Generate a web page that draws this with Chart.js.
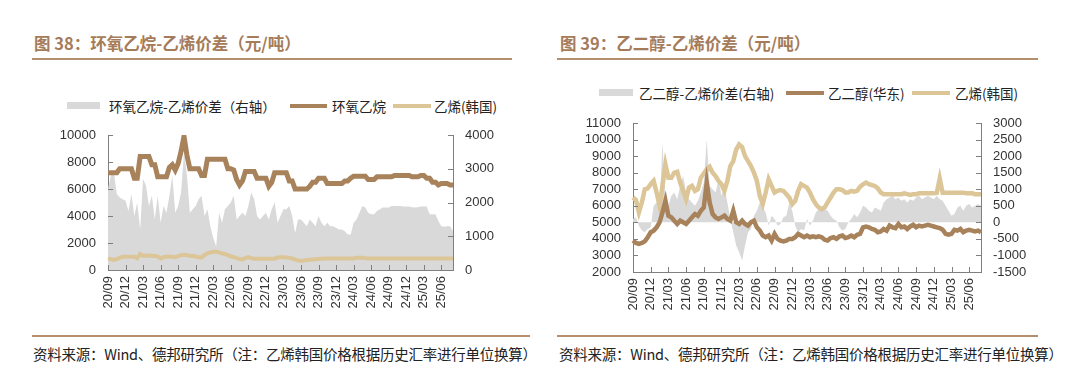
<!DOCTYPE html>
<html>
<head>
<meta charset="utf-8">
<script src="https://cdn.jsdelivr.net/npm/chart.js@4.4.1/dist/chart.umd.min.js"></script>
<style>
  body { margin: 0; width: 1080px; height: 389px; background: #fff; position: relative; overflow: hidden; font-family: "Noto Sans CJK SC", sans-serif; }
  .title { position: absolute; top: 32px; font-size: 16.5px; line-height: 22px; font-weight: bold; color: #a57b59; white-space: nowrap; }
  .rule { position: absolute; height: 2px; background: #b58f6d; }
  .src { position: absolute; top: 344px; font-size: 14.5px; letter-spacing: -0.25px; line-height: 20px; color: #222; white-space: nowrap; }
  .lg { position: absolute; font-size: 13.5px; line-height: 16px; color: #222; white-space: nowrap; }
  .sw { position: absolute; }
  .box { position: absolute; }
</style>
</head>
<body>

<div class="title" style="left:34px">图 38：环氧乙烷-乙烯价差（元/吨）</div>
<div class="rule" style="left:32px;width:480px;top:58px"></div>
<div class="title" style="left:560px">图 39：乙二醇-乙烯价差（元/吨）</div>
<div class="rule" style="left:557px;width:481px;top:58px"></div>

<div class="sw" style="left:67px;top:102px;width:33px;height:7px;background:#d9d9d9"></div>
<div class="lg" style="left:109px;top:98px">环氧乙烷-乙烯价差（右轴）</div>
<div class="sw" style="left:290px;top:104px;width:37px;height:4px;background:#a8825a"></div>
<div class="lg" style="left:332px;top:98px">环氧乙烷</div>
<div class="sw" style="left:393px;top:104px;width:38px;height:4px;background:#dcc597"></div>
<div class="lg" style="left:434px;top:98px">乙烯(韩国)</div>

<div class="sw" style="left:599px;top:89px;width:34px;height:7px;background:#d9d9d9"></div>
<div class="lg" style="left:639px;top:85px">乙二醇-乙烯价差(右轴)</div>
<div class="sw" style="left:786px;top:91px;width:38px;height:4px;background:#a8825a"></div>
<div class="lg" style="left:828px;top:85px">乙二醇(华东)</div>
<div class="sw" style="left:912px;top:91px;width:38px;height:4px;background:#dcc597"></div>
<div class="lg" style="left:955px;top:85px">乙烯(韩国)</div>

<div class="box" style="left:30px;top:115px;width:500px;height:215px"><canvas id="chartEO" width="500" height="215"></canvas></div>
<div class="box" style="left:555px;top:100px;width:505px;height:230px"><canvas id="chartMEG" width="505" height="230"></canvas></div>

<div class="rule" style="left:32px;width:498px;top:335px"></div>
<div class="rule" style="left:557px;width:481px;top:335px"></div>
<div class="src" style="left:33px">资料来源：Wind、德邦研究所（注：乙烯韩国价格根据历史汇率进行单位换算）</div>
<div class="src" style="left:559px">资料来源：Wind、德邦研究所（注：乙烯韩国价格根据历史汇率进行单位换算）</div>

<script>
// 半月一个点，2020/09 起
const xTickLabels = ["20/09","20/12","21/03","21/06","21/09","21/12","22/03","22/06","22/09","22/12",
  "23/03","23/06","23/09","23/12","24/03","24/06","24/09","24/12","25/03","25/06"];

// 图38 环氧乙烷（左轴）
const eoPrice = [7200,7200,7200,7200,7500,7500,7500,7500,7500,6800,6800,8400,8400,8400,8400,7800,7800,6900,6900,6900,
  6900,7600,7800,7400,7900,8800,9900,8500,7500,7500,7500,7500,7000,7000,8200,8200,8200,8200,8200,8200,
  8200,7500,7500,7400,6700,6300,6600,7300,7300,7300,7300,6800,6800,6800,6800,6200,6500,7200,7200,7200,
  7200,7200,6600,6600,6000,6000,6000,6000,6000,6200,6500,6500,6800,6800,6800,6400,6400,6400,6400,6400,
  6400,6600,6600,6800,6950,6950,6950,6950,6950,6700,6700,6700,6900,6900,6900,6900,6900,6900,7000,7000,
  7000,7000,7000,7000,6900,6900,6900,7000,7000,6800,6800,6500,6500,6300,6400,6400,6400,6300,6300];
// 图38 乙烯(韩国)（左轴）
const ethKoreaL = [860,800,740,800,900,990,990,990,990,990,860,1190,1050,1050,1070,1060,1030,1000,860,950,
  1000,990,980,950,1030,1100,1120,1100,1050,1030,1000,950,930,1100,1230,1300,1360,1350,1300,1230,
  1170,1100,1000,950,880,820,790,880,950,880,840,840,840,840,840,840,840,840,920,940,
  950,930,900,850,780,700,680,700,740,760,780,800,820,840,850,850,850,850,850,850,
  850,850,850,850,850,900,910,900,880,850,850,850,850,850,850,850,850,850,850,850,
  850,850,850,850,850,850,850,850,850,850,850,850,850,850,850,850,850,850,850];
// 图38 价差（右轴）
const eoSpread = [2400,2800,2900,2250,2150,2100,2050,1750,2250,1600,2000,1200,2700,2500,1900,2200,1500,2200,1400,1900,
  1700,2200,2800,1700,1900,2300,3500,2800,1700,1800,1900,2100,2200,1600,1800,1300,950,700,1700,1400,
  1800,1900,2000,2200,1500,1600,1700,1600,1900,2300,2100,1600,1500,1600,1700,1500,1800,2000,1400,1600,
  1800,1800,1900,1600,1100,1500,1500,1400,1300,1500,1400,1300,1600,1400,1300,1400,1300,1300,1250,1200,
  1200,1150,1050,1050,1400,1500,1700,1900,1850,1700,1650,1650,1750,1800,1850,1850,1850,1900,1900,1900,
  1900,1880,1880,1880,1860,1850,1860,1880,1880,1880,1650,1650,1650,1450,1300,1280,1300,1300,1150];

// 图39 乙二醇(华东)（左轴）
const megPrice = [3900,3750,3700,3750,3850,4100,4400,4500,4700,5000,5600,6300,5400,5300,5100,4900,5100,5000,4900,5100,
  5300,5500,5400,5700,5900,7400,6200,5500,5300,5200,5300,5400,5200,5100,5700,5000,4900,5100,4900,4800,
  5000,5100,4700,4500,4200,4100,4200,3900,4300,4000,3900,3850,3900,4000,4000,4100,4300,4200,4100,4200,
  4100,4150,4100,4150,4100,3950,3900,4050,4100,4000,4150,4200,4050,4100,4200,4100,4250,4300,4700,4750,
  4700,4600,4550,4400,4450,4600,4500,4800,4700,4650,4900,4700,4750,4600,4750,4850,4700,4800,4750,4800,
  4850,4800,4750,4700,4650,4550,4300,4250,4300,4550,4500,4600,4400,4500,4550,4500,4450,4500,4400];
// 图39 乙烯(韩国)（左轴）
const ethKoreaR = [6500,6350,5600,6200,7000,7050,7300,7500,6800,6000,7200,8500,7700,7700,8000,8050,7400,6900,6400,7100,
  7200,6900,7000,7700,7950,8200,8350,8000,7800,7500,7300,6900,7500,8400,8700,9400,9700,9550,9000,8700,
  8400,8000,7500,6600,6100,6800,7600,7200,6800,6900,6950,6900,6700,6500,6100,6300,6900,7300,7200,7100,
  6800,6400,6100,5900,5800,5900,6200,6500,6800,7000,7000,6950,6800,6800,6900,6850,6900,7150,7300,7400,
  7300,7250,7200,7050,6800,6700,6700,6700,6700,6700,6700,6700,6750,6700,6650,6700,6700,6750,6750,6750,
  6750,6750,6750,6780,7650,6780,6780,6780,6780,6780,6780,6780,6780,6760,6750,6750,6700,6700,6700];
// 图39 价差（右轴）
const megSpread = [100,150,-100,-250,-300,-200,-150,500,600,450,2400,700,500,800,900,700,1100,1400,900,700,
  600,500,650,900,1200,2500,1100,1000,900,1300,800,1100,600,100,-300,-700,-900,-1150,-700,-300,
  -200,200,350,600,450,300,-100,200,100,-100,-50,150,200,600,350,-100,-300,-200,-250,100,
  -100,50,300,400,500,400,350,200,100,50,-150,-250,-200,0,100,250,150,300,500,450,
  350,300,450,400,350,600,700,750,800,700,750,650,700,600,700,650,750,800,700,750,
  800,750,700,800,700,650,500,350,200,250,450,500,350,500,550,450,500,550,500];

const brown = "#a8825a";
const tan = "#dcc597";
const gray = "#d9d9d9";
const axisColor = "#7f7f7f";
const tickFont = { family: "Liberation Sans", size: 13 };

function halfMonthLabels(n) {
  const out = [];
  for (let i = 0; i < n; i++) {
    const m = 8 + Math.floor(i / 2);
    const y = 20 + Math.floor(m / 12);
    out.push(y + "/" + String(m % 12 + 1).padStart(2, "0"));
  }
  return out;
}

// 刻度线朝内
const innerTicks = {
  id: "innerTicks",
  afterDatasetsDraw(chart) {
    const ctx = chart.ctx;
    ctx.save();
    ctx.strokeStyle = axisColor;
    ctx.lineWidth = 1;
    Object.values(chart.scales).forEach((s) => {
      s.ticks.forEach((t, i) => {
        const p = Math.round(s.getPixelForTick(i)) + 0.5;
        ctx.beginPath();
        if (s.axis === "x") {
          ctx.moveTo(p, s.top);
          ctx.lineTo(p, s.top - 5);
        } else if (s.position === "left") {
          ctx.moveTo(s.right, p);
          ctx.lineTo(s.right + 5, p);
        } else {
          ctx.moveTo(s.left, p);
          ctx.lineTo(s.left - 5, p);
        }
        ctx.stroke();
      });
    });
    ctx.restore();
  },
};

function makeChart(id, cfg) {
  const labels = halfMonthLabels(cfg.line1.length);
  return new Chart(document.getElementById(id), {
    type: "line",
    data: {
      labels: labels,
      datasets: [
        {
          data: cfg.spread, yAxisID: "y1", order: 3,
          borderWidth: 0, pointRadius: 0, fill: "origin", backgroundColor: gray, tension: 0,
        },
        {
          data: cfg.line2, yAxisID: "y", order: 2,
          borderColor: tan, borderWidth: cfg.w2, pointRadius: 0, fill: false, tension: 0,
        },
        {
          data: cfg.line1, yAxisID: "y", order: 1,
          borderColor: brown, borderWidth: cfg.w1, pointRadius: 0, fill: false, tension: 0,
        },
      ],
    },
    options: {
      responsive: false,
      animation: false,
      events: [],
      layout: { padding: { top: cfg.top, left: 0, right: 0, bottom: 0 } },
      plugins: { legend: { display: false }, tooltip: { enabled: false } },
      scales: {
        x: {
          grid: { display: true, drawOnChartArea: false, drawTicks: false },
          border: { display: true, color: axisColor },
          afterBuildTicks: (scale) => {
            scale.ticks = scale.ticks.filter((t) => t.value % 2 === 0 && xTickLabels.includes(labels[t.value]));
          },
          afterFit: (scale) => { scale.height = cfg.xh; },
          ticks: { autoSkip: false, maxRotation: 90, minRotation: 90, padding: 6, color: "#333", font: tickFont },
        },
        y: {
          position: "left",
          min: cfg.yMin, max: cfg.yMax,
          grid: { display: true, drawOnChartArea: false, drawTicks: false },
          border: { display: true, color: axisColor },
          afterFit: (scale) => { scale.width = 78; },
          ticks: { stepSize: cfg.yStep, autoSkip: false, padding: 12, color: "#333", font: tickFont,
            callback: (v) => String(v) },
        },
        y1: {
          position: "right",
          min: cfg.y1Min, max: cfg.y1Max,
          grid: { display: true, drawOnChartArea: false, drawTicks: false },
          border: { display: true, color: axisColor },
          afterFit: (scale) => { scale.width = cfg.rw; },
          ticks: { stepSize: cfg.y1Step, autoSkip: false, padding: 12, color: "#333", font: tickFont,
            callback: (v) => String(v) },
        },
      },
    },
    plugins: [innerTicks],
  });
}

makeChart("chartEO", {
  line1: eoPrice, line2: ethKoreaL, spread: eoSpread,
  yMin: 0, yMax: 10000, yStep: 2000, y1Min: 0, y1Max: 4000, y1Step: 1000,
  top: 20, xh: 60, rw: 77, w1: 5, w2: 4,
});

makeChart("chartMEG", {
  line1: megPrice, line2: ethKoreaR, spread: megSpread,
  yMin: 2000, yMax: 11000, yStep: 1000, y1Min: -1500, y1Max: 3000, y1Step: 500,
  top: 23, xh: 58, rw: 79, w1: 4.5, w2: 4.5,
});
</script>
</body>
</html>
